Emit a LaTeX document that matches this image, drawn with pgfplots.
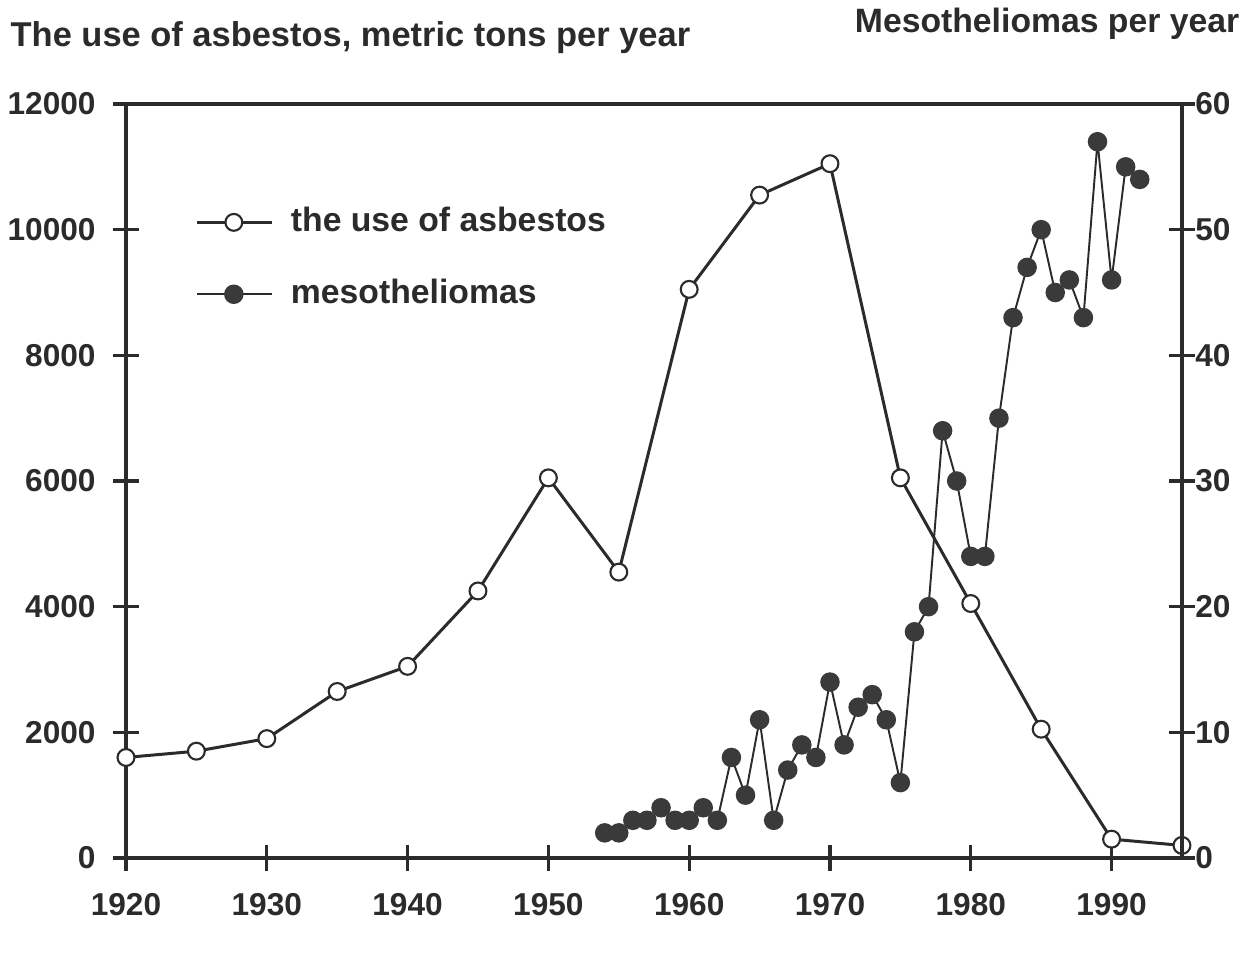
\documentclass[border=0pt]{standalone}
\usepackage{fontspec}
\setmainfont{Liberation Sans}
\usepackage{pgfplots}
\pgfplotsset{compat=1.18}
\definecolor{ink}{HTML}{2B2B2B}
\definecolor{dotc}{HTML}{3A3A3A}

\begin{document}
\begin{tikzpicture}
\path[use as bounding box] (0,0) rectangle (124.5mm,97.3mm);
\node[anchor=base west, font=\bfseries\fontsize{9.8}{12}\selectfont, text=ink, inner sep=0pt] at (1mm,92.6mm) {The use of asbestos, metric tons per year};
\node[anchor=base east, font=\bfseries\fontsize{9.6}{12}\selectfont, text=ink, inner sep=0pt] at (124mm,94.0mm) {Mesotheliomas per year};
\begin{axis}[
  at={(12.6mm,11.5mm)}, anchor=south west,
  scale only axis, width=105.6mm, height=75.4mm,
  xmin=1920, xmax=1995, ymin=0, ymax=12000,
  axis line style={ink, line width=1.1pt},
  xtick={1920,1930,...,1990}, ytick={0,2000,...,12000},
  xtick pos=bottom, ytick pos=left,
  tick align=center, major tick length=2.6mm,
  tick style={ink, line width=0.9pt},
  scaled y ticks=false,
  /pgf/number format/assume math mode=true,
  /pgf/number format/1000 sep={},
  ticklabel style={font=\bfseries\fontsize{9}{10}\selectfont, text=ink},
  xticklabel style={yshift=-1.0mm},
  yticklabel style={xshift=-0.5mm},
  clip=false,
]
\addplot[ink, line width=0.85pt, mark=*, mark size=2.4pt, mark options={fill=white, draw=ink, line width=0.6pt}] table {
x y
1920 1600
1925 1700
1930 1900
1935 2650
1940 3050
1945 4250
1950 6050
1955 4550
1960 9050
1965 10550
1970 11050
1975 6050
1980 4050
1985 2050
1990 300
1995 200
};
\end{axis}
\begin{axis}[
  at={(12.6mm,11.5mm)}, anchor=south west,
  scale only axis, width=105.6mm, height=75.4mm,
  xmin=1920, xmax=1995, ymin=0, ymax=60,
  hide x axis,
  axis y line*=right,
  axis line style={ink, line width=1.4pt},
  ytick={0,10,...,60},
  tick align=center, major tick length=2.6mm,
  tick style={ink, line width=0.9pt},
  /pgf/number format/assume math mode=true,
  ticklabel style={font=\bfseries\fontsize{9}{10}\selectfont, text=ink},
  yticklabel style={xshift=-1.2mm},
  clip=false,
  legend style={draw=none, fill=none, at={(0.065,0.873)}, anchor=north west,
    font=\bfseries\fontsize{9.6}{11}\selectfont, text=ink, row sep=8pt, column sep=3pt,
    inner sep=0pt},
  legend cell align=left,
  legend image code/.code={\draw[#1, mark repeat=2, mark phase=2] plot coordinates {(0mm,0mm) (3.7mm,0mm) (7.5mm,0mm)};},
]
\addlegendimage{ink, line width=0.85pt, mark=*, mark size=2.4pt, mark options={fill=white, draw=ink, line width=0.6pt}}
\addlegendentry{the use of asbestos}
\addplot[ink, line width=0.55pt, mark=*, mark size=2.5pt, mark options={fill=dotc, draw=dotc}] table {
x y
1954 2
1955 2
1956 3
1957 3
1958 4
1959 3
1960 3
1961 4
1962 3
1963 8
1964 5
1965 11
1966 3
1967 7
1968 9
1969 8
1970 14
1971 9
1972 12
1973 13
1974 11
1975 6
1976 18
1977 20
1978 34
1979 30
1980 24
1981 24
1982 35
1983 43
1984 47
1985 50
1986 45
1987 46
1988 43
1989 57
1990 46
1991 55
1992 54
};
\addlegendentry{mesotheliomas}
\end{axis}
\end{tikzpicture}
\end{document}
